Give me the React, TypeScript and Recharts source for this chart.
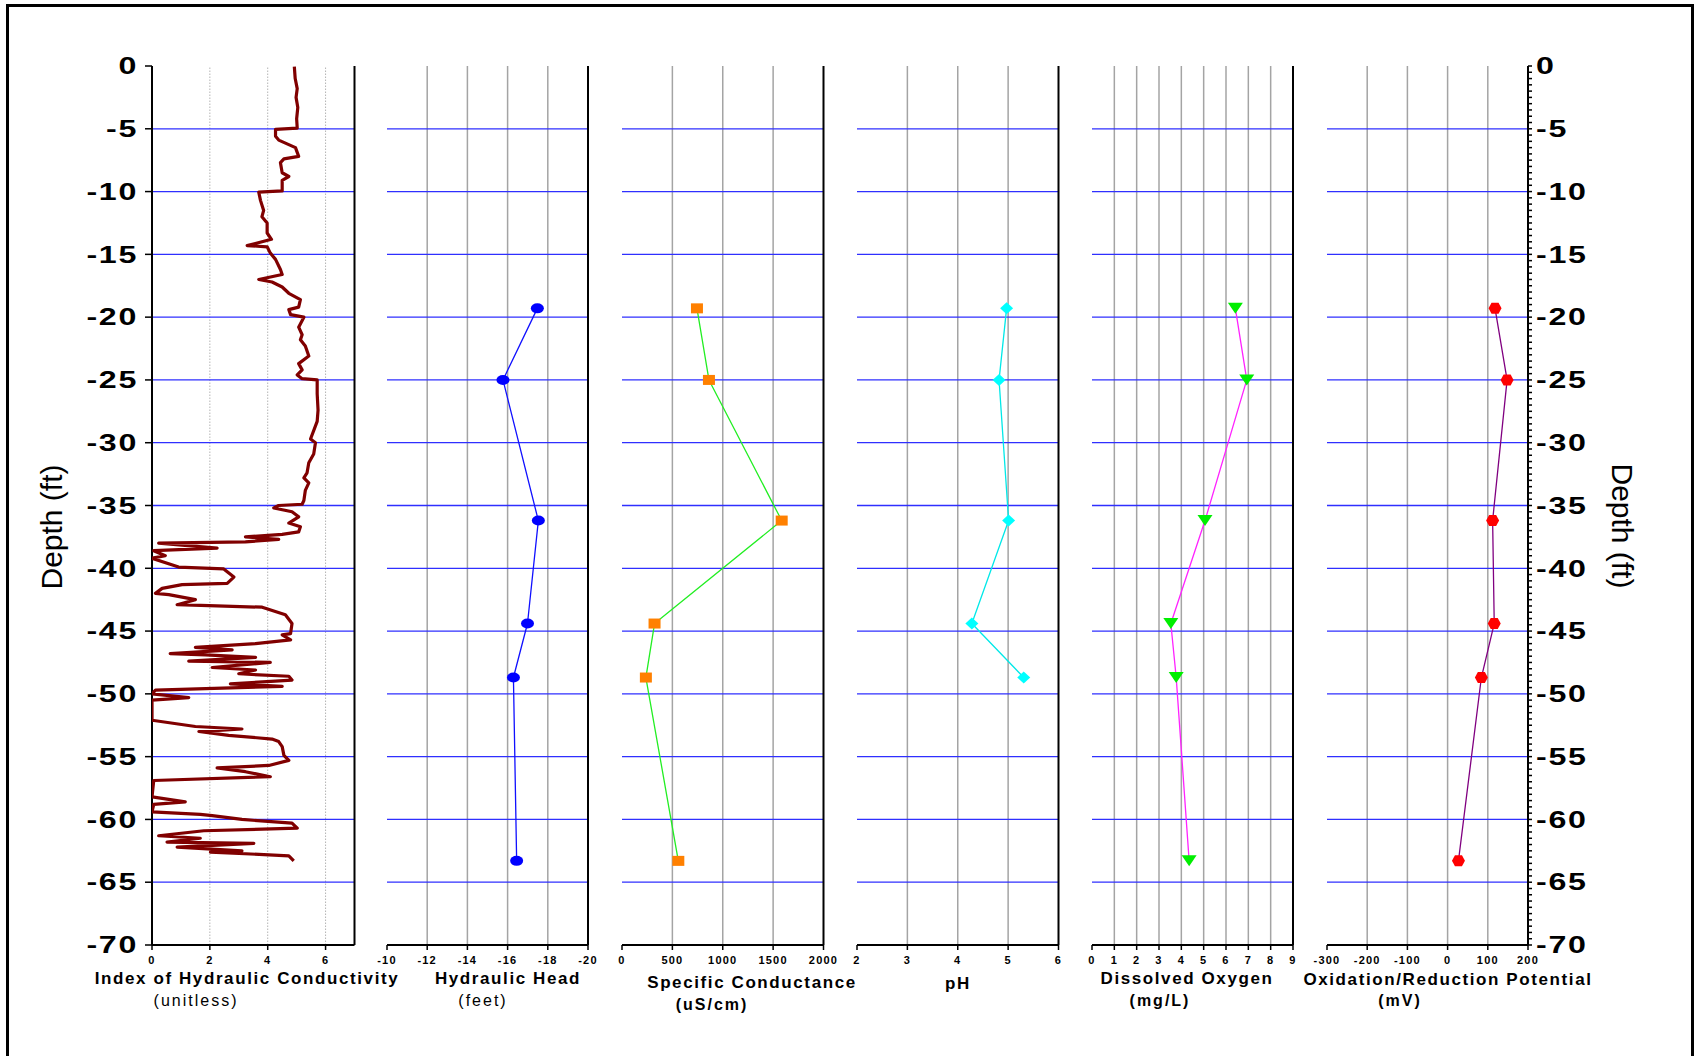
import React from 'react'
import { ScatterChart, Scatter, XAxis, YAxis, ReferenceLine } from 'recharts'

const FONT = '"Liberation Sans", Arial, Helvetica, sans-serif'

// water samples, depth in ft
const sampleDepth = [-19.3, -25.0, -36.2, -44.4, -48.7, -63.3]
const hydraulicHead = [-17.48, -15.77, -17.53, -16.99, -16.29, -16.45]
const specificConductance = [744, 863, 1585, 323, 237, 559]
const phValues = [4.97, 4.82, 5.01, 4.28, 5.31]
const dissolvedOxygen = [6.42, 6.93, 5.06, 3.53, 3.77, 4.35]
const orpValues = [118, 148, 112, 116, 84, 27]

// hydraulic conductivity log
const traceDepth = [
  -0.05, -1.0, -1.8, -2.5, -3.3, -4.2, -4.95, -5.05, -5.6, -5.9, -6.5, -7.2, -7.4, -7.7, -8.5, -8.8,
  -9.1, -9.95, -10.05, -10.7, -11.5, -12.0, -12.5, -13.3, -13.8, -14.3, -14.4, -14.9, -15.4, -16.2,
  -16.6, -17.0, -17.2, -17.6, -18.1, -18.6, -19.2, -19.4, -19.8, -20.0, -20.8, -21.4, -21.8, -22.3,
  -23.1, -23.7, -24.2, -24.6, -24.9, -25.0, -26.1, -27.4, -28.3, -29.7, -30.0, -30.9, -31.6, -32.4,
  -32.8, -33.2, -33.8, -34.6, -34.9, -35.0, -35.2, -35.5, -35.9, -36.4, -36.7, -37.1, -37.3, -37.5,
  -37.7, -37.9, -38.0, -38.4, -38.6, -39.0, -39.2, -39.9, -40.05, -40.7, -41.2, -41.3, -41.6, -42.0,
  -42.1, -42.5, -42.9, -43.1, -43.7, -44.4, -45.2, -45.3, -45.7, -46.0, -46.3, -46.5, -46.8, -46.9,
  -47.1, -47.4, -47.5, -47.9, -48.1, -48.4, -48.6, -48.9, -49.2, -49.4, -49.7, -50.0, -50.3, -50.5,
  -52.1, -52.6, -52.8, -53.0, -53.3, -53.6, -53.8, -54.2, -54.9, -55.3, -55.7, -55.9, -56.2, -56.6,
  -56.9, -58.2, -58.6, -58.8, -59.4, -59.6, -59.7, -60.0, -60.3, -60.7, -60.9, -61.3, -61.5, -61.8,
  -61.9, -62.2, -62.5, -62.6, -62.9, -63.3,
]
const traceIndex = [
  4.92, 4.95, 5.02, 4.98, 5.04, 5.0, 5.02, 4.27, 4.27, 4.38, 4.96, 5.07, 4.56, 4.44, 4.5, 4.73,
  4.5, 4.5, 3.69, 3.75, 3.86, 3.8, 3.98, 3.98, 4.13, 3.29, 3.98, 4.09, 4.27, 4.44,
  4.5, 3.69, 4.15, 4.5, 4.73, 5.13, 5.07, 4.73, 4.79, 5.25, 5.07, 5.19, 5.13, 5.3,
  5.42, 5.07, 5.19, 5.02, 5.19, 5.71, 5.71, 5.74, 5.71, 5.48, 5.65, 5.59, 5.42, 5.36,
  5.25, 5.42, 5.3, 5.25, 5.19, 4.38, 4.21, 4.84, 5.07, 4.73, 5.13, 5.07, 4.5, 3.23,
  4.38, 3.23, 0.23, 2.25, 0.06, 0.46, 0.0, 0.92, 2.48, 2.83, 2.6, 1.04, 0.35, 0.12,
  0.58, 1.5, 0.87, 3.81, 4.61, 4.84, 4.79, 4.5, 4.79, 3.58, 1.5, 2.77, 0.63, 1.85,
  3.58, 1.27, 4.09, 2.08, 3.58, 3.0, 4.73, 4.84, 2.71, 4.5, 0.12, 0.0, 1.27, 0.0,
  0.0, 1.5, 3.11, 1.62, 2.65, 4.15, 4.38, 4.5, 4.56, 4.73, 4.04, 2.25, 3.23, 4.09,
  0.06, 0.0, 1.15, 0.06, 0.0, 1.67, 2.08, 3.11, 4.84, 5.02, 1.79, 0.23, 1.67, 0.52,
  3.52, 0.87, 3.11, 2.02, 4.73, 4.9,
]

const depthTicks = [0, -5, -10, -15, -20, -25, -30, -35, -40, -45, -50, -55, -60, -65, -70]
const depthGrid = [-5, -10, -15, -20, -25, -30, -35, -40, -45, -50, -55, -60, -65]
const halfFootTicks = Array.from({ length: 141 }, (_, i) => -i / 2)
const edgeTicks = Array.from({ length: 29 }, (_, i) => -i * 2.5)

const axisTitles = [
  'Index of Hydraulic Conductivity',
  'Hydraulic Head',
  'Specific Conductance',
  'pH',
  'Dissolved Oxygen',
  'Oxidation/Reduction Potential',
]
const axisUnits = ['(unitless)', '(feet)', '(uS/cm)', '', '(mg/L)', '(mV)']

const PLOT_TOP = 66
const PLOT_H = 879
const PAD = 100

type Pt = { x: number; y: number }

const toPoints = (values: number[], depths: number[]): Pt[] =>
  values.map((v, i) => ({ x: v, y: depths[i] }))

function XTick(props: any) {
  const { x, y, payload } = props
  return (
    <text
      x={x}
      y={y}
      dy="0.71em"
      textAnchor="middle"
      fontFamily={FONT}
      fontSize={11}
      fontWeight="bold"
      letterSpacing={1.2}
      fill="#000"
    >
      {payload.value}
    </text>
  )
}

function DepthLabel(props: any) {
  const { x, y, payload, anchor } = props
  if (payload.value % 5 !== 0) return <g />
  return (
    <g transform={`translate(${x},${y}) scale(1.4,1)`}>
      <text
        x={0}
        y={0}
        dy="0.36em"
        textAnchor={anchor}
        fontFamily={FONT}
        fontSize={23}
        fontWeight="bold"
        letterSpacing={1.2}
        fill="#000"
      >
        {payload.value === 0 ? '0' : payload.value}
      </text>
    </g>
  )
}

const circleShape = (p: any) => <ellipse cx={p.cx} cy={p.cy} rx={6.5} ry={5} fill="#0000ff" />
const squareShape = (p: any) => (
  <rect x={p.cx - 6} y={p.cy - 5} width={12} height={10} fill="#ff8000" />
)
const diamondShape = (p: any) => (
  <polygon
    points={`${p.cx},${p.cy - 6} ${p.cx + 6.5},${p.cy} ${p.cx},${p.cy + 6} ${p.cx - 6.5},${p.cy}`}
    fill="#00ffff"
  />
)
const triangleShape = (p: any) => (
  <polygon
    points={`${p.cx - 7.5},${p.cy - 5.5} ${p.cx + 7.5},${p.cy - 5.5} ${p.cx},${p.cy + 5.5}`}
    fill="#00ee00"
  />
)
const hexShape = (p: any) => (
  <polygon
    points={`${p.cx - 6.5},${p.cy} ${p.cx - 3.5},${p.cy - 5.5} ${p.cx + 3.5},${p.cy - 5.5} ${p.cx + 6.5},${p.cy} ${p.cx + 3.5},${p.cy + 5.5} ${p.cx - 3.5},${p.cy + 5.5}`}
    fill="#ff0000"
  />
)
const noShape = () => <g />

interface PanelProps {
  left: number
  width: number
  domain: [number, number]
  ticks: number[]
  minorTicks: number[]
  grid: number[]
  reversed?: boolean
  dotted?: boolean
  leftAxis?: boolean
  rightAxis?: boolean
  edge: number[]
  data: Pt[]
  lineColor: string
  lineWidth: number
  shape: (p: any) => React.ReactElement
}

function Panel(p: PanelProps) {
  const black = { stroke: '#000', strokeWidth: 2 }
  const tickLine = { stroke: '#000', strokeWidth: 1.5 }
  // axes that carry only tick marks still need a series to get a scale
  const auxAxes = [
    ...(p.leftAxis ? ['leftMinor'] : []),
    ...(p.rightAxis ? ['rightLabels', 'rightMajor'] : ['edge']),
  ]
  return (
    <div style={{ position: 'absolute', left: p.left - PAD, top: PLOT_TOP - 12 }}>
      <ScatterChart
        width={p.width + PAD * 2}
        height={12 + PLOT_H + 30 + 10}
        margin={{ top: 12, right: p.rightAxis ? 0 : PAD, bottom: 10, left: p.leftAxis ? 0 : PAD }}
      >
        <XAxis
          xAxisId="main"
          type="number"
          dataKey="x"
          domain={p.domain}
          ticks={p.ticks}
          interval={0}
          reversed={p.reversed}
          allowDataOverflow
          height={30}
          tickSize={5}
          tickMargin={6}
          axisLine={black}
          tickLine={tickLine}
          tick={XTick}
        />
        <XAxis
          xAxisId="minor"
          type="number"
          dataKey="x"
          domain={p.domain}
          ticks={p.minorTicks}
          interval={0}
          reversed={p.reversed}
          allowDataOverflow
          mirror
          height={1}
          tickSize={4}
          tick={false}
          axisLine={false}
          tickLine={tickLine}
        />
        <YAxis
          yAxisId="depth"
          type="number"
          dataKey="y"
          domain={[-70, 0]}
          ticks={depthTicks}
          interval={0}
          allowDataOverflow
          hide={!p.leftAxis}
          width={PAD}
          tickSize={7}
          tickMargin={7}
          axisLine={black}
          tickLine={tickLine}
          tick={(t: any) => <DepthLabel {...t} anchor="end" />}
        />
        {p.leftAxis && (
          <YAxis
            yAxisId="leftMinor"
            type="number"
            dataKey="y"
            domain={[-70, 0]}
            allowDataOverflow
            ticks={halfFootTicks}
            interval={0}
            mirror
            width={1}
            tickSize={4}
            tick={false}
            axisLine={false}
            tickLine={tickLine}
          />
        )}
        {p.rightAxis ? (
          <YAxis
            yAxisId="rightLabels"
            orientation="right"
            type="number"
            dataKey="y"
            domain={[-70, 0]}
            allowDataOverflow
            ticks={halfFootTicks}
            interval={0}
            width={PAD}
            tickSize={4}
            tickMargin={4}
            axisLine={black}
            tickLine={tickLine}
            tick={(t: any) => <DepthLabel {...t} anchor="start" />}
          />
        ) : null}
        {p.rightAxis ? (
          <YAxis
            yAxisId="rightMajor"
            orientation="right"
            type="number"
            dataKey="y"
            domain={[-70, 0]}
            allowDataOverflow
            ticks={depthTicks}
            interval={0}
            mirror
            width={1}
            tickSize={8}
            tick={false}
            axisLine={false}
            tickLine={tickLine}
          />
        ) : (
          <YAxis
            yAxisId="edge"
            orientation="right"
            type="number"
            dataKey="y"
            domain={[-70, 0]}
            allowDataOverflow
            ticks={p.edge}
            interval={0}
            mirror
            width={1}
            tickSize={3}
            tick={false}
            axisLine={black}
            tickLine={{ stroke: '#000', strokeWidth: 1 }}
          />
        )}
        {p.grid.map((v) => (
          <ReferenceLine
            key={'v' + v}
            xAxisId="main"
            yAxisId="depth"
            x={v}
            stroke={p.dotted ? '#b4b4b4' : '#a4a4a4'}
            strokeWidth={p.dotted ? 1 : 1.5}
            strokeDasharray={p.dotted ? '1.5 1.5' : undefined}
          />
        ))}
        {depthGrid.map((d) => (
          <ReferenceLine
            key={'h' + d}
            xAxisId="main"
            yAxisId="depth"
            y={d}
            stroke="#2f2fff"
            strokeWidth={1.3}
          />
        ))}
        {auxAxes.map((id) => (
          <Scatter
            key={id}
            xAxisId="minor"
            yAxisId={id}
            data={p.data}
            shape={noShape}
            isAnimationActive={false}
          />
        ))}
        <Scatter
          xAxisId="main"
          yAxisId="depth"
          data={p.data}
          line={{ stroke: p.lineColor, strokeWidth: p.lineWidth, strokeLinejoin: 'round' }}
          lineType="joint"
          shape={p.shape}
          isAnimationActive={false}
        />
      </ScatterChart>
    </div>
  )
}

const titleX = [247, 508, 752, 958, 1187, 1448]
const titleY = [978, 978, 982, 983, 978, 979]
const unitX = [196, 483, 712, 958, 1160, 1400]
const unitY = [1000, 1000, 1004, 1004, 1000, 1000]
const unitBold = [false, false, true, true, true, true]

export default function App() {
  return (
    <div
      style={{
        position: 'relative',
        width: 1699,
        height: 1056,
        background: '#fff',
        overflow: 'hidden',
        fontFamily: FONT,
      }}
    >
      <style>{'body{margin:0}'}</style>
      <div
        style={{
          position: 'absolute',
          left: 6,
          top: 4,
          width: 1682,
          height: 1100,
          border: '3px solid #000',
        }}
      />
      <Panel
        left={151.5}
        width={202.5}
        domain={[0, 7]}
        ticks={[0, 2, 4, 6]}
        minorTicks={[1, 3, 5]}
        grid={[2, 4, 6]}
        dotted
        leftAxis
        edge={halfFootTicks}
        data={toPoints(traceIndex, traceDepth)}
        lineColor="#800000"
        lineWidth={3.2}
        shape={noShape}
      />
      <Panel
        left={387}
        width={201}
        domain={[-20, -10]}
        reversed
        ticks={[-10, -12, -14, -16, -18, -20]}
        minorTicks={[-11, -13, -15, -17, -19]}
        grid={[-12, -14, -16, -18]}
        edge={edgeTicks}
        data={toPoints(hydraulicHead, sampleDepth)}
        lineColor="#1010ff"
        lineWidth={1.3}
        shape={circleShape}
      />
      <Panel
        left={622}
        width={201.5}
        domain={[0, 2000]}
        ticks={[0, 500, 1000, 1500, 2000]}
        minorTicks={[250, 750, 1250, 1750]}
        grid={[500, 1000, 1500]}
        edge={edgeTicks}
        data={toPoints(specificConductance, sampleDepth)}
        lineColor="#22ee22"
        lineWidth={1.3}
        shape={squareShape}
      />
      <Panel
        left={857}
        width={201.5}
        domain={[2, 6]}
        ticks={[2, 3, 4, 5, 6]}
        minorTicks={[2.5, 3.5, 4.5, 5.5]}
        grid={[3, 4, 5]}
        edge={edgeTicks}
        data={toPoints(phValues, sampleDepth)}
        lineColor="#00e8e8"
        lineWidth={1.3}
        shape={diamondShape}
      />
      <Panel
        left={1092.3}
        width={201}
        domain={[0, 9]}
        ticks={[0, 1, 2, 3, 4, 5, 6, 7, 8, 9]}
        minorTicks={[0.5, 1.5, 2.5, 3.5, 4.5, 5.5, 6.5, 7.5, 8.5]}
        grid={[1, 2, 3, 4, 5, 6, 7, 8]}
        edge={edgeTicks}
        data={toPoints(dissolvedOxygen, sampleDepth)}
        lineColor="#ff22ff"
        lineWidth={1.3}
        shape={triangleShape}
      />
      <Panel
        left={1327}
        width={201}
        domain={[-300, 200]}
        ticks={[-300, -200, -100, 0, 100, 200]}
        minorTicks={[-250, -150, -50, 50, 150]}
        grid={[-200, -100, 0, 100]}
        rightAxis
        edge={edgeTicks}
        data={toPoints(orpValues, sampleDepth)}
        lineColor="#800080"
        lineWidth={1.3}
        shape={hexShape}
      />
      <svg
        width={1699}
        height={1056}
        style={{ position: 'absolute', left: 0, top: 0, pointerEvents: 'none' }}
      >
        {axisTitles.map((t, i) => (
          <text
            key={t}
            x={titleX[i]}
            y={titleY[i]}
            dy="0.36em"
            textAnchor="middle"
            fontFamily={FONT}
            fontSize={17}
            fontWeight="bold"
            letterSpacing={1.6}
            fill="#000"
          >
            {t}
          </text>
        ))}
        {axisUnits.map((u, i) =>
          u ? (
            <text
              key={u}
              x={unitX[i]}
              y={unitY[i]}
              dy="0.36em"
              textAnchor="middle"
              fontFamily={FONT}
              fontSize={16}
              fontWeight={unitBold[i] ? 'bold' : 'normal'}
              letterSpacing={2}
              fill="#000"
            >
              {u}
            </text>
          ) : null
        )}
        <text
          transform="translate(51,527) rotate(-90)"
          textAnchor="middle"
          dy="0.36em"
          fontFamily={FONT}
          fontSize={30}
          fill="#000"
        >
          Depth (ft)
        </text>
        <text
          transform="translate(1623,526) rotate(90)"
          textAnchor="middle"
          dy="0.36em"
          fontFamily={FONT}
          fontSize={30}
          fill="#000"
        >
          Depth (ft)
        </text>
      </svg>
    </div>
  )
}
